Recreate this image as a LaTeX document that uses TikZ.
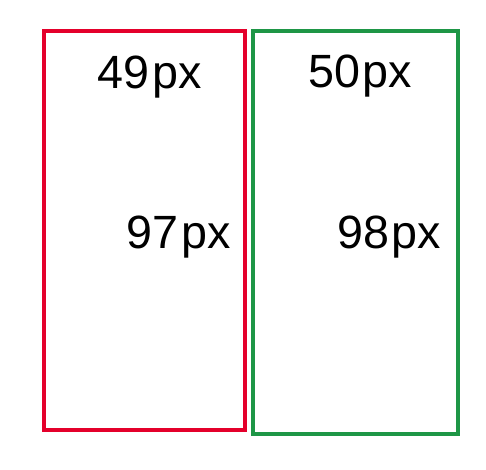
\documentclass[tikz,border=0pt]{standalone}
\usepackage{fontspec}
\setmainfont{Liberation Sans}
\usepackage{xcolor}
\usetikzlibrary{positioning}
\definecolor{boxred}{RGB}{228,0,43}
\definecolor{boxgreen}{RGB}{30,150,70}
\newcommand{\pxsize}[1]{#1\kern2pt px}
\tikzset{
    sizelabel/.style={anchor=base, inner sep=0pt, font=\fontsize{35}{40}\selectfont},
    boxline/.style={line width=3pt}
}

\begin{document}
\begin{tikzpicture}[x=0.75pt, y=-0.75pt]
                                \useasboundingbox (0, 0) rectangle (486, 469);
                                \draw[boxline, boxred] (44, 31) rectangle (245, 430);
                                \draw[boxline, boxgreen] (253, 31) rectangle (458, 434);
                                \node[sizelabel] (redtop) at (149.5, 88) {\pxsize{49}};
                                \node[sizelabel] (redmid) at (178.5, 248) {\pxsize{97}};
                                \node[sizelabel] (greentop) at (360, 87) {\pxsize{50}};
                                \node[sizelabel] (greenmid) at (389, 248) {\pxsize{98}};
                            \end{tikzpicture}
\end{document}
